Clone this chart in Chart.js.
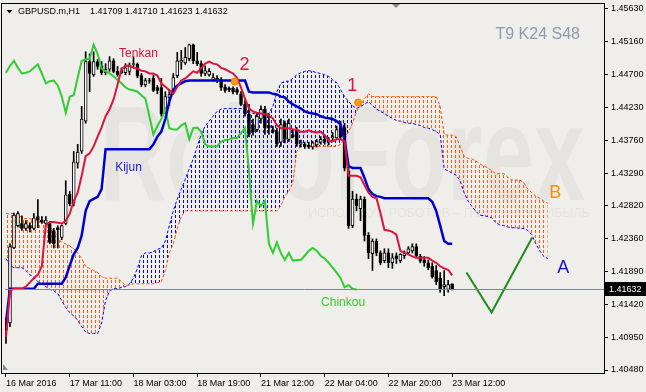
<!DOCTYPE html>
<html>
<head>
<meta charset="utf-8">
<script src="https://cdn.jsdelivr.net/npm/chart.js@4.4.1/dist/chart.umd.min.js"></script>
<style>
  html, body { margin: 0; padding: 0; background: #efeeea; }
  canvas { display: block; }
</style>
</head>
<body>
<canvas id="ichimoku-chart" width="646" height="392"></canvas>
<script>
// GBPUSD.m H1, Ichimoku 9/24/48 - one value per bar, bar 0 = 16 Mar 2016 19:00
const timeBars = [0, 16, 32, 48, 64, 80, 96, 112];
const timeLabels = ["16 Mar 2016", "17 Mar 11:00", "18 Mar 03:00", "18 Mar 19:00",
  "21 Mar 12:00", "22 Mar 04:00", "22 Mar 20:00", "23 Mar 12:00"];
const priceTicks = [1.4048, 1.4095, 1.4142, 1.4189, 1.4236, 1.4282,
  1.4329, 1.4376, 1.4423, 1.4470, 1.4516, 1.4563];

const openP = [
  1.4116,1.4115,1.4222,1.4254,1.4257,1.4250,1.4254,1.4250,1.4267,1.4262,
  1.4257,1.4257,1.4247,1.4251,1.4237,1.4257,1.4299,1.4286,1.4343,1.4360,
  1.4403,1.4488,1.4469,1.4488,1.4482,1.4472,1.4477,1.4489,1.4474,1.4475,
  1.4472,1.4474,1.4484,1.4484,1.4468,1.4455,1.4461,1.4464,1.4451,1.4451,
  1.4417,1.4437,1.4445,1.4468,1.4487,1.4486,1.4492,1.4512,1.4489,1.4485,
  1.4471,1.4469,1.4461,1.4461,1.4462,1.4452,1.4450,1.4450,1.4448,1.4442,
  1.4427,1.4413,1.4398,1.4391,1.4406,1.4420,1.4397,1.4391,1.4388,1.4373,
  1.4400,1.4377,1.4384,1.4388,1.4370,1.4370,1.4369,1.4366,1.4369,1.4373,
  1.4377,1.4373,1.4379,1.4379,1.4393,1.4394,1.4332,1.4254,1.4292,1.4278,
  1.4292,1.4240,1.4214,1.4232,1.4215,1.4204,1.4215,1.4201,1.4211,1.4204,
  1.4211,1.4215,1.4218,1.4224,1.4210,1.4205,1.4201,1.4196,1.4190,1.4179,
  1.4167,1.4163,1.41709];
const highP = [
  1.4122,1.4228,1.4272,1.4274,1.4268,1.4261,1.4258,1.4271,1.4291,1.4267,
  1.4267,1.4259,1.4250,1.4254,1.4255,1.4318,1.4303,1.4360,1.4370,1.4424,
  1.4502,1.4499,1.4502,1.4491,1.4488,1.4485,1.4495,1.4492,1.4481,1.4479,
  1.4485,1.4486,1.4495,1.4486,1.4471,1.4464,1.4464,1.4469,1.4454,1.4464,
  1.4445,1.4448,1.4471,1.4501,1.4504,1.4508,1.4513,1.4513,1.4501,1.4489,
  1.4482,1.4478,1.4471,1.4468,1.4465,1.4455,1.4452,1.4452,1.4451,1.4445,
  1.4433,1.4427,1.4406,1.4414,1.4425,1.4424,1.4413,1.4396,1.4393,1.4406,
  1.4403,1.4406,1.4391,1.4394,1.4376,1.4373,1.4373,1.4374,1.4377,1.4381,
  1.4381,1.4380,1.4387,1.4396,1.4403,1.4400,1.4339,1.4303,1.4299,1.4296,
  1.4295,1.4244,1.4235,1.4235,1.4218,1.4221,1.4221,1.4214,1.4215,1.4214,
  1.4218,1.4224,1.4228,1.4228,1.4213,1.4210,1.4205,1.4201,1.4197,1.4187,
  1.4190,1.4176,1.41710];
const lowP = [
  1.4086,1.4110,1.4221,1.4252,1.4247,1.4247,1.4245,1.4248,1.4251,1.4257,
  1.4254,1.4228,1.4222,1.4222,1.4234,1.4255,1.4282,1.4282,1.4336,1.4357,
  1.4400,1.4445,1.4467,1.4477,1.4469,1.4469,1.4474,1.4472,1.4467,1.4471,
  1.4469,1.4469,1.4479,1.4465,1.4452,1.4452,1.4457,1.4445,1.4442,1.4410,
  1.4414,1.4425,1.4442,1.4465,1.4477,1.4484,1.4489,1.4485,1.4482,1.4467,
  1.4468,1.4467,1.4460,1.4458,1.4447,1.4444,1.4445,1.4442,1.4441,1.4425,
  1.4410,1.4381,1.4383,1.4388,1.4400,1.4384,1.4384,1.4386,1.4367,1.4367,
  1.4372,1.4374,1.4379,1.4367,1.4366,1.4364,1.4364,1.4363,1.4366,1.4370,
  1.4370,1.4369,1.4374,1.4377,1.4377,1.4332,1.4250,1.4251,1.4275,1.4261,
  1.4232,1.4207,1.4190,1.4211,1.4198,1.4201,1.4194,1.4193,1.4200,1.4201,
  1.4207,1.4213,1.4215,1.4208,1.4201,1.4196,1.4191,1.4179,1.4170,1.4159,
  1.4154,1.4159,1.41623];
const closeP = [
  1.4105,1.4224,1.4269,1.4271,1.4250,1.4257,1.4250,1.4265,1.4262,1.4259,
  1.4262,1.4230,1.4228,1.4248,1.4254,1.4298,1.4285,1.4345,1.4359,1.4406,
  1.4488,1.4471,1.4488,1.4481,1.4472,1.4477,1.4489,1.4474,1.4469,1.4472,
  1.4479,1.4482,1.4485,1.4467,1.4455,1.4461,1.4460,1.4447,1.4447,1.4413,
  1.4438,1.4441,1.4465,1.4489,1.4490,1.4494,1.4512,1.4489,1.4485,1.4471,
  1.4475,1.4474,1.4465,1.4464,1.4451,1.4447,1.4448,1.4445,1.4444,1.4427,
  1.4413,1.4384,1.4388,1.4410,1.4420,1.4393,1.4393,1.4388,1.4370,1.4398,
  1.4377,1.4400,1.4381,1.4370,1.4373,1.4367,1.4366,1.4372,1.4374,1.4377,
  1.4373,1.4376,1.4381,1.4391,1.4380,1.4336,1.4254,1.4292,1.4282,1.4292,
  1.4240,1.4215,1.4232,1.4215,1.4201,1.4215,1.4201,1.4208,1.4207,1.4213,
  1.4215,1.4221,1.4224,1.4211,1.4204,1.4201,1.4194,1.4181,1.4174,1.4163,
  1.4170,1.4170,1.41632];

const tenkan = [
  1.4095,1.4161,1.4164,1.4164,1.4164,1.4167,1.4173,1.4179,1.4184,1.4196,
  1.4255,1.4259,1.4259,1.4258,1.4257,1.4261,1.4271,1.4289,1.4301,1.4325,
  1.4353,1.4357,1.4367,1.4381,1.4394,1.4410,1.4420,1.4434,1.4455,1.4477,
  1.4482,1.4482,1.4479,1.4478,1.4475,1.4474,1.4471,1.4471,1.4468,1.4457,
  1.4452,1.4447,1.4442,1.4452,1.4461,1.4464,1.4469,1.4474,1.4472,1.4479,
  1.4485,1.4488,1.4485,1.4484,1.4479,1.4477,1.4474,1.4471,1.4465,1.4451,
  1.4435,1.4421,1.4417,1.4415,1.4414,1.4413,1.4411,1.4407,1.4397,1.4393,
  1.4393,1.4393,1.4391,1.4391,1.4388,1.4388,1.4390,1.4388,1.4387,1.4388,
  1.4383,1.4376,1.4374,1.4377,1.4377,1.4374,1.4325,1.4325,1.4325,1.4323,
  1.4312,1.4301,1.4295,1.4293,1.4272,1.4248,1.4247,1.4245,1.4241,1.4218,
  1.4215,1.4213,1.4210,1.4208,1.4208,1.4208,1.4208,1.4204,1.4201,1.4196,
  1.4193,1.4191,1.4183];
const kijun = [
  1.4116,1.4164,1.4164,1.4164,1.4164,1.4164,1.4164,1.4164,1.4171,1.4171,
  1.4171,1.4171,1.4171,1.4171,1.4171,1.4180,1.4197,1.4213,1.4222,1.4240,
  1.4275,1.4289,1.4292,1.4295,1.4306,1.4363,1.4363,1.4363,1.4363,1.4363,
  1.4363,1.4363,1.4363,1.4363,1.4363,1.4363,1.4363,1.4370,1.4381,1.4388,
  1.4406,1.4431,1.4448,1.4454,1.4457,1.4460,1.4461,1.4461,1.4461,1.4461,
  1.4461,1.4461,1.4461,1.4461,1.4461,1.4461,1.4461,1.4461,1.4461,1.4461,
  1.4461,1.4445,1.4444,1.4444,1.4444,1.4444,1.4444,1.4442,1.4441,1.4438,
  1.4437,1.4431,1.4427,1.4424,1.4421,1.4417,1.4415,1.4414,1.4413,1.4410,
  1.4408,1.4407,1.4406,1.4403,1.4398,1.4377,1.4339,1.4336,1.4336,1.4336,
  1.4322,1.4306,1.4299,1.4296,1.4295,1.4293,1.4293,1.4293,1.4293,1.4293,
  1.4293,1.4293,1.4293,1.4293,1.4293,1.4293,1.4293,1.4288,1.4275,1.4254,
  1.4232,1.4228,1.4228];
// lagging line, drawn 24 bars back (bars 0..88)
const chinkou = [
  1.4472,1.4482,1.4489,1.4479,1.4471,1.4472,1.4474,1.4479,1.4484,1.4471,
  1.4457,1.4460,1.4461,1.4454,1.4438,1.4415,1.4438,1.4440,1.4465,1.4489,
  1.4491,1.4492,1.4512,1.4499,1.4478,1.4474,1.4471,1.4467,1.4462,1.4457,
  1.4451,1.4448,1.4447,1.4445,1.4440,1.4435,1.4410,1.4384,1.4396,1.4406,
  1.4420,1.4393,1.4391,1.4391,1.4397,1.4400,1.4377,1.4393,1.4394,1.4388,
  1.4370,1.4367,1.4367,1.4367,1.4374,1.4376,1.4377,1.4379,1.4379,1.4386,
  1.4393,1.4332,1.4257,1.4289,1.4282,1.4289,1.4228,1.4215,1.4230,1.4215,
  1.4205,1.4215,1.4204,1.4205,1.4205,1.4211,1.4218,1.4222,1.4218,1.4211,
  1.4207,1.4201,1.4194,1.4187,1.4179,1.4166,1.4169,1.4164,1.4163];
// cloud edges, drawn 24 bars ahead (bars 0..136)
const spanA = [
  1.4207,1.4197,1.4194,1.4194,1.4194,1.4190,1.4184,1.4180,1.4174,1.4171,
  1.4167,1.4163,1.4161,1.4157,1.4147,1.4137,1.4130,1.4125,1.4119,1.4110,
  1.4102,1.4100,1.4100,1.4100,1.4115,1.4147,1.4161,1.4164,1.4164,1.4166,
  1.4167,1.4171,1.4179,1.4193,1.4211,1.4215,1.4215,1.4217,1.4220,1.4222,
  1.4232,1.4254,1.4275,1.4292,1.4306,1.4320,1.4335,1.4349,1.4367,1.4384,
  1.4396,1.4403,1.4410,1.4417,1.4420,1.4421,1.4421,1.4421,1.4421,1.4421,
  1.4421,1.4417,1.4414,1.4413,1.4413,1.4413,1.4414,1.4424,1.4445,1.4457,
  1.4460,1.4460,1.4464,1.4469,1.4472,1.4474,1.4475,1.4474,1.4472,1.4471,
  1.4469,1.4467,1.4462,1.4458,1.4448,1.4438,1.4431,1.4425,1.4421,1.4424,
  1.4427,1.4431,1.4425,1.4420,1.4417,1.4414,1.4410,1.4407,1.4404,1.4403,
  1.4401,1.4400,1.4400,1.4398,1.4397,1.4394,1.4393,1.4391,1.4388,1.4384,
  1.4335,1.4332,1.4329,1.4326,1.4318,1.4301,1.4289,1.4281,1.4274,1.4269,
  1.4268,1.4267,1.4265,1.4258,1.4255,1.4254,1.4252,1.4251,1.4251,1.4250,
  1.4250,1.4247,1.4241,1.4228,1.4218,1.4210,1.4207];
const spanB = [
  1.4271,1.4271,1.4271,1.4271,1.4265,1.4264,1.4264,1.4262,1.4261,1.4259,
  1.4258,1.4252,1.4247,1.4237,1.4230,1.4228,1.4225,1.4221,1.4215,1.4207,
  1.4196,1.4193,1.4190,1.4187,1.4181,1.4179,1.4179,1.4179,1.4179,1.4174,
  1.4169,1.4169,1.4171,1.4171,1.4171,1.4171,1.4171,1.4171,1.4173,1.4174,
  1.4190,1.4215,1.4228,1.4250,1.4267,1.4275,1.4275,1.4275,1.4275,1.4275,
  1.4275,1.4275,1.4275,1.4275,1.4275,1.4275,1.4275,1.4275,1.4275,1.4275,
  1.4275,1.4275,1.4275,1.4275,1.4275,1.4275,1.4275,1.4275,1.4275,1.4282,
  1.4296,1.4303,1.4315,1.4360,1.4367,1.4367,1.4367,1.4367,1.4367,1.4367,
  1.4367,1.4367,1.4367,1.4367,1.4370,1.4377,1.4388,1.4400,1.4417,1.4425,
  1.4435,1.4442,1.4438,1.4438,1.4438,1.4438,1.4438,1.4438,1.4438,1.4438,
  1.4438,1.4438,1.4438,1.4438,1.4438,1.4438,1.4438,1.4438,1.4438,1.4424,
  1.4384,1.4383,1.4383,1.4381,1.4367,1.4353,1.4350,1.4349,1.4346,1.4342,
  1.4339,1.4336,1.4332,1.4328,1.4328,1.4328,1.4323,1.4319,1.4319,1.4319,
  1.4315,1.4306,1.4301,1.4296,1.4293,1.4289,1.4286];

// hand-drawn scenario and the two cross marks (bar, price)
const scenarioBars = [115.6, 121.9, 132.1];
const scenarioPrices = [1.4187, 1.4130, 1.4237];
const crossBars = [57.4, 88.4];
const crossPrices = [1.44595, 1.44296];

const notes = [
  { text: "Tenkan", bar: 28.4, price: 1.4499, color: "#dc143c", size: 12, align: "left" },
  { text: "Kijun", bar: 27.4, price: 1.4336, color: "#1c1cc8", size: 12, align: "left" },
  { text: "Chinkou", bar: 79.1, price: 1.41445, color: "#32cd32", size: 12, align: "left" },
  { text: "2", bar: 59.9, price: 1.44836, color: "#dc143c", size: 18, align: "center" },
  { text: "1", bar: 86.9, price: 1.44524, color: "#dc143c", size: 18, align: "center" },
  { text: "B", bar: 137.9, price: 1.43006, color: "#ff8c00", size: 18, align: "center" },
  { text: "A", bar: 139.9, price: 1.41941, color: "#1010c8", size: 18, align: "center" }
];

const FONT = '"Liberation Sans", Arial, sans-serif';
const BG = "#efeeea";
Chart.defaults.font.family = FONT;
Chart.defaults.font.size = 9;
Chart.defaults.color = "#000";

const canvas = document.getElementById("ichimoku-chart");
const ctx = canvas.getContext("2d");

// vertical dashed hatch, one column every bar (4px)
function hatch(color) {
  const tile = document.createElement("canvas");
  tile.width = 4;
  tile.height = 5;
  const g = tile.getContext("2d");
  g.fillStyle = color;
  g.fillRect(3, 0, 1, 3);
  return ctx.createPattern(tile, "repeat");
}

const xy = (arr) => arr.map((v, i) => ({ x: i, y: v }));
const bars = closeP.map((_, i) => i);

const mt4Plugin = {
  id: "mt4",
  beforeDraw(chart) {
    const c = chart.ctx;
    c.save();
    c.fillStyle = BG;
    c.fillRect(0, 0, chart.width, chart.height);
    // faint broker watermark
    c.fillStyle = "rgba(0,0,0,0.04)";
    c.font = "bold 135px " + FONT;
    const w = c.measureText("RoboForex").width;
    c.translate(100, 200);
    c.scale(485 / w, 1);
    c.fillText("RoboForex", 0, 0);
    c.restore();
    c.save();
    c.fillStyle = "rgba(0,0,0,0.045)";
    c.font = "13px " + FONT;
    c.textBaseline = "middle";
    c.fillText("ИСПОЛЬЗУЙ РОБОТОВ – ПОЛУЧАЙ ПРИБЫЛЬ", 308, 213, 282);
    c.restore();
  },
  afterDatasetsDraw(chart) {
    const c = chart.ctx;
    const { left, right } = chart.chartArea;
    const xs = chart.scales.x, ys = chart.scales.y;
    c.save();
    // bid line
    const last = closeP[closeP.length - 1];
    const by = Math.round(ys.getPixelForValue(last)) + 0.5;
    c.strokeStyle = "#7d8896";
    c.lineWidth = 1;
    c.beginPath();
    c.moveTo(left, by);
    c.lineTo(right, by);
    c.stroke();
    // frame
    c.strokeStyle = "#000";
    c.strokeRect(1.5, 3.5, 603, 370);
    // notes
    c.textBaseline = "middle";
    notes.forEach((n) => {
      c.font = n.size + "px " + FONT;
      c.fillStyle = n.color;
      c.textAlign = n.align;
      c.fillText(n.text, xs.getPixelForValue(n.bar), ys.getPixelForValue(n.price));
    });
    // header
    c.textAlign = "left";
    c.font = "9px " + FONT;
    c.fillStyle = "#000";
    c.fillText("GBPUSD.m,H1", 18, 12);
    const q = [openP, highP, lowP, closeP].map((a) => a[a.length - 1].toFixed(5)).join(" ");
    c.fillText(q, 90, 12);
    c.beginPath();
    c.moveTo(6.5, 10); c.lineTo(12.5, 10); c.lineTo(9.5, 13.5); c.closePath();
    c.fill();
    c.font = "16px " + FONT;
    c.fillStyle = "#8c9bb0";
    c.textAlign = "right";
    c.fillText("T9 K24 S48", 580, 35);
    // shift markers
    c.fillStyle = "#7f8a96";
    c.beginPath();
    c.moveTo(392, 4); c.lineTo(400, 4); c.lineTo(396, 8); c.closePath();
    c.fill();
    c.beginPath();
    c.moveTo(3, 364); c.lineTo(3, 370); c.lineTo(8, 370); c.closePath();
    c.fill();
    // price box
    c.fillStyle = "#000";
    c.fillRect(605, by - 7.5, 41, 14);
    c.fillStyle = "#fff";
    c.textAlign = "left";
    c.font = "9px " + FONT;
    c.fillText(last.toFixed(5), 609, by);
    c.restore();
  }
};

new Chart(ctx, {
  type: "line",
  data: {
    datasets: [
      {
        label: "Senkou A",
        data: xy(spanA),
        borderColor: "#0000ff",
        borderWidth: 1,
        borderDash: [3, 2],
        pointRadius: 0,
        fill: false,
        order: 9
      },
      {
        label: "Senkou B",
        data: xy(spanB),
        borderColor: "#ff5000",
        borderWidth: 1,
        borderDash: [3, 2],
        pointRadius: 0,
        fill: { target: 0, above: hatch("#ff5a14"), below: hatch("#0000ff") },
        order: 8
      },
      {
        type: "bar",
        label: "wicks",
        data: bars.map((i) => ({ x: i, y: [lowP[i], highP[i]] })),
        backgroundColor: "#000",
        borderWidth: 0,
        barThickness: 1,
        grouped: false,
        order: 6
      },
      {
        type: "bar",
        label: "bodies",
        data: bars.map((i) => ({ x: i, y: [openP[i], closeP[i]] })),
        backgroundColor: bars.map((i) => (closeP[i] > openP[i] ? "#ffffff" : "#000000")),
        borderColor: "#000",
        borderWidth: 1,
        borderSkipped: false,
        barThickness: 3,
        grouped: false,
        order: 5
      },
      {
        label: "Chinkou",
        data: xy(chinkou),
        borderColor: "#32cd32",
        borderWidth: 2,
        pointRadius: 0,
        order: 4
      },
      {
        label: "Kijun",
        data: xy(kijun),
        borderColor: "#0000cd",
        borderWidth: 2.5,
        pointRadius: 0,
        order: 3
      },
      {
        label: "Tenkan",
        data: xy(tenkan),
        borderColor: "#dc143c",
        borderWidth: 2,
        pointRadius: 0,
        order: 2
      },
      {
        label: "scenario",
        data: scenarioBars.map((b, k) => ({ x: b, y: scenarioPrices[k] })),
        borderColor: "#1f8c1f",
        borderWidth: 2,
        pointRadius: 0,
        order: 1
      },
      {
        label: "cross",
        data: crossBars.map((b, k) => ({ x: b, y: crossPrices[k] })),
        showLine: false,
        pointRadius: 3.5,
        pointBackgroundColor: "#ff9a10",
        pointBorderColor: "#f07800",
        pointBorderWidth: 1,
        order: 0
      }
    ]
  },
  options: {
    responsive: false,
    animation: false,
    events: [],
    devicePixelRatio: 1,
    layout: { padding: { left: 2.5, top: 3, right: 0, bottom: 0 } },
    elements: { line: { tension: 0 } },
    plugins: { legend: { display: false }, tooltip: { enabled: false } },
    scales: {
      x: {
        type: "linear",
        position: "bottom",
        offset: false,
        min: -0.25,
        max: 150.125,
        afterBuildTicks: (s) => { s.ticks = timeBars.map((v) => ({ value: v })); },
        afterFit: (s) => { s.height = 19; s.paddingLeft = 0; s.paddingRight = 0; },
        ticks: {
          autoSkip: false,
          maxRotation: 0,
          minRotation: 0,
          align: "start",
          padding: 1,
          callback: (v) => timeLabels[timeBars.indexOf(v)]
        },
        grid: { offset: false, drawOnChartArea: false, drawTicks: true, tickLength: 4, color: "#000" },
        border: { display: false }
      },
      y: {
        type: "linear",
        position: "right",
        beginAtZero: false,
        min: 1.404374,
        max: 1.456868,
        afterBuildTicks: (s) => { s.ticks = priceTicks.map((v) => ({ value: v })); },
        afterFit: (s) => { s.width = 42; s.paddingTop = 0; s.paddingBottom = 0; },
        ticks: { autoSkip: false, padding: 3, callback: (v) => v.toFixed(5) },
        grid: { drawOnChartArea: false, drawTicks: true, tickLength: 4, color: "#000" },
        border: { display: false }
      }
    }
  },
  plugins: [mt4Plugin]
});
</script>
</body>
</html>
